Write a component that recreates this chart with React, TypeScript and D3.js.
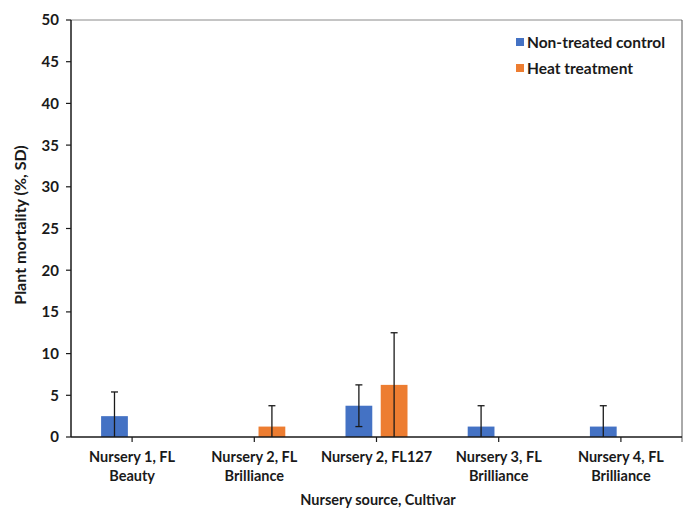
import React from 'react';
import * as d3 from 'd3';

const categories = [
  ['Nursery 1, FL', 'Beauty'],
  ['Nursery 2, FL', 'Brilliance'],
  ['Nursery 2, FL127'],
  ['Nursery 3, FL', 'Brilliance'],
  ['Nursery 4, FL', 'Brilliance'],
];
const seriesNames = ['Non-treated control', 'Heat treatment'];
const seriesColors = ['#4472C4', '#ED7D31'];
const controlValues = [2.5, 0, 3.75, 1.25, 1.25];
const controlSD = [2.9, 0, 2.5, 2.5, 2.5];
const heatValues = [0, 1.25, 6.25, 0, 0];
const heatSD = [0, 2.5, 6.25, 0, 0];
const yTicks = [0, 5, 10, 15, 20, 25, 30, 35, 40, 45, 50];

const W = 688;
const H = 511;
const margin = { top: 20, right: 6, bottom: 74, left: 71 };
const font = "Lato, 'Open Sans', sans-serif";
const ink = '#1a1a1a';

export default function App() {
  const x = d3.scaleBand<number>()
    .domain(categories.map((_, i) => i))
    .range([margin.left, W - margin.right]);
  const y = d3.scaleLinear().domain([0, 50]).range([H - margin.bottom, margin.top]);
  // two bars per category, small gap between them
  const sub = d3.scaleBand<number>().domain([0, 1]).range([-31, 31]).paddingInner(0.24);

  const series = [
    { values: controlValues, sd: controlSD },
    { values: heatValues, sd: heatSD },
  ];
  const y0 = y(0);
  const xRight = W - margin.right;

  return (
    <div style={{ position: 'absolute', left: 0, top: 0 }}>
      <svg width={W} height={H} style={{ display: 'block', background: '#fff' }} fontFamily={font}>
        {/* plot area frame */}
        <line x1={margin.left} x2={xRight} y1={y(50)} y2={y(50)} stroke="#8a8a8a" strokeWidth={1} />
        <line x1={xRight} x2={xRight} y1={y(50)} y2={y0 + 5} stroke="#555" strokeWidth={1} />

        {/* y axis */}
        <line x1={margin.left} x2={margin.left} y1={y(50)} y2={y0} stroke={ink} strokeWidth={1.5} />
        {yTicks.map(t => (
          <g key={t}>
            <line x1={margin.left - 5} x2={margin.left} y1={y(t)} y2={y(t)} stroke={ink} strokeWidth={1.2} />
            <text x={margin.left - 12} y={y(t)} dy="0.36em" textAnchor="end" fontSize={15} fontWeight="bold" fill={ink}>{t}</text>
          </g>
        ))}
        <text transform={`translate(26,225) rotate(-90)`} textAnchor="middle" fontSize={16} fontWeight="bold" fill={ink}>
          Plant mortality (%, SD)
        </text>

        {/* bars */}
        {series.map((s, si) => s.values.map((v, ci) => {
          if (v <= 0) return null;
          const cx = (x(ci) || 0) + x.bandwidth() / 2;
          const bx = cx + (sub(si) || 0);
          return (
            <rect key={`${si}-${ci}`} x={bx} y={y(v)} width={sub.bandwidth()} height={y0 - y(v)} fill={seriesColors[si]} />
          );
        }))}

        {/* error bars */}
        {series.map((s, si) => s.values.map((v, ci) => {
          if (v <= 0) return null;
          const cx = (x(ci) || 0) + x.bandwidth() / 2;
          const ex = cx + (sub(si) || 0) + sub.bandwidth() / 2;
          const hi = v + s.sd[ci];
          const lo = v - s.sd[ci];
          return (
            <g key={`e-${si}-${ci}`} stroke={ink} strokeWidth={1.3}>
              <line x1={ex} x2={ex} y1={y(hi)} y2={y(Math.max(lo, 0))} />
              <line x1={ex - 3.5} x2={ex + 3.5} y1={y(hi)} y2={y(hi)} />
              {lo > 0.05 && <line x1={ex - 3.5} x2={ex + 3.5} y1={y(lo)} y2={y(lo)} />}
            </g>
          );
        }))}

        {/* x axis */}
        <line x1={margin.left} x2={xRight} y1={y0} y2={y0} stroke={ink} strokeWidth={1.5} />
        {categories.map((c, ci) => {
          const cx = (x(ci) || 0) + x.bandwidth() / 2;
          return (
            <g key={ci}>
              <line x1={cx} x2={cx} y1={y0} y2={y0 + 5} stroke={ink} strokeWidth={1.2} />
              {c.map((line, li) => (
                <text key={li} x={cx} y={y0 + 20 + li * 19} dy="0.35em" textAnchor="middle" fontSize={14.5} fontWeight="bold" fill={ink}>{line}</text>
              ))}
            </g>
          );
        })}
        <text x={378} y={500} dy="0.35em" textAnchor="middle" fontSize={14.5} fontWeight="bold" fill={ink}>Nursery source, Cultivar</text>

        {/* legend */}
        {seriesNames.map((n, i) => (
          <g key={n} transform={`translate(516,${42 + i * 26})`}>
            <rect x={0} y={-4} width={8} height={8} fill={seriesColors[i]} />
            <text x={11} y={0} dy="0.36em" fontSize={15.5} fontWeight="bold" fill={ink}>{n}</text>
          </g>
        ))}
      </svg>
    </div>
  );
}
